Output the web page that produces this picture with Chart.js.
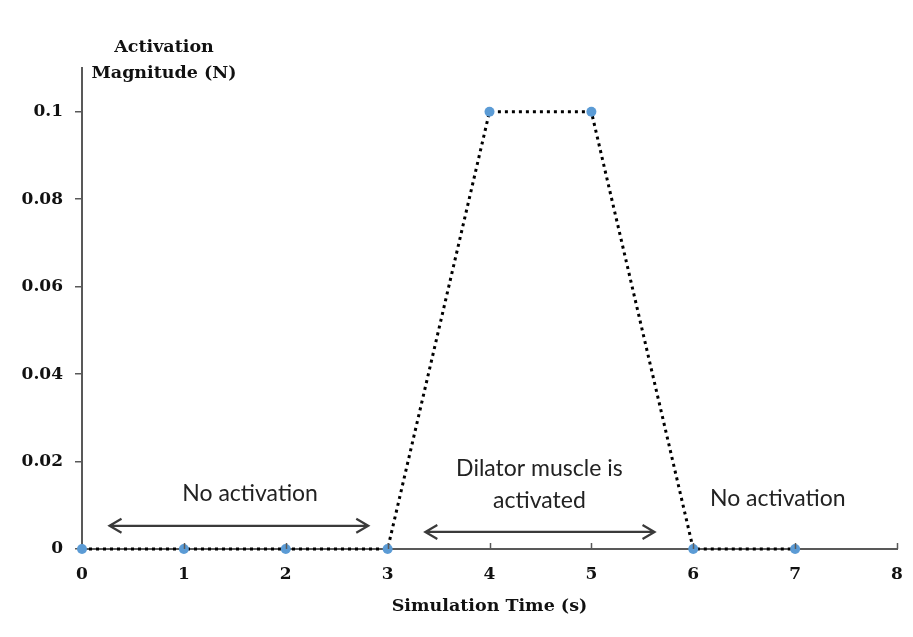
<!DOCTYPE html>
<html>
<head>
<meta charset="utf-8">
<script src="https://cdn.jsdelivr.net/npm/chart.js@4.4.1/dist/chart.umd.min.js"></script>
<style>
html,body{margin:0;padding:0;background:#fff;}
#wrap{width:913px;height:637px;position:relative;}
</style>
</head>
<body>
<div id="wrap"><canvas id="c" width="913" height="637"></canvas></div>
<script>
// ---- data ----
const timeValues = [0, 1, 2, 3, 4, 5, 6, 7];
const activationValues = [0, 0, 0, 0, 0.1, 0.1, 0, 0];
const yTickValues = [0, 0.02, 0.04, 0.06, 0.08, 0.1];
const xTickValues = [0, 1, 2, 3, 4, 5, 6, 7, 8];
const xAxisTitle = 'Simulation Time (s)';
const yAxisTitleLines = ['Activation', 'Magnitude (N)'];
// annotations: label text lines with anchor (data units), arrows (data units)
const annotationTexts = [
  { lines: ['No activation'], x: 1.65, y: 0.0126 },
  { lines: ['Dilator muscle is', 'activated'], x: 4.49, y: 0.0183 },
  { lines: ['No activation'], x: 6.83, y: 0.0116 }
];
const annotationArrows = [
  { x1: 0.27, x2: 2.81, y: 0.0053 },
  { x1: 3.37, x2: 5.62, y: 0.0039 }
];

const points = timeValues.map((t, i) => ({ x: t, y: activationValues[i] }));
const axisColor = '#595959';

const overlay = {
  id: 'overlay',
  afterDraw(chart) {
    const ctx = chart.ctx;
    const xs = chart.scales.x, ys = chart.scales.y;
    ctx.save();
    // x tick marks (inside, upward)
    ctx.strokeStyle = axisColor;
    ctx.lineWidth = 1.5;
    xTickValues.forEach(v => {
      if (v === 0) return;
      const px = Math.round(xs.getPixelForValue(v)) + 0.5;
      ctx.beginPath();
      ctx.moveTo(px, ys.bottom);
      ctx.lineTo(px, ys.bottom - 6);
      ctx.stroke();
    });
    // y axis title (horizontal, top)
    ctx.fillStyle = '#111';
    ctx.font = 'bold 17.5px "DejaVu Serif"';
    ctx.textAlign = 'center';
    ctx.textBaseline = 'middle';
    ctx.fillText(yAxisTitleLines[0], 164, 47);
    ctx.fillText(yAxisTitleLines[1], 164, 73);
    // annotation texts
    ctx.font = '23px Lato';
    ctx.fillStyle = '#222';
    annotationTexts.forEach(a => {
      const px = xs.getPixelForValue(a.x);
      const py = ys.getPixelForValue(a.y);
      a.lines.forEach((l, i) => ctx.fillText(l, px, py + i * 32));
    });
    // arrows
    ctx.strokeStyle = '#3a3a3a';
    ctx.lineWidth = 2.2;
    annotationArrows.forEach(a => {
      const x1 = xs.getPixelForValue(a.x1), x2 = xs.getPixelForValue(a.x2);
      const y = ys.getPixelForValue(a.y);
      ctx.beginPath();
      ctx.moveTo(x1, y); ctx.lineTo(x2, y);
      ctx.moveTo(x1 + 12, y - 7); ctx.lineTo(x1, y); ctx.lineTo(x1 + 12, y + 7);
      ctx.moveTo(x2 - 12, y - 7); ctx.lineTo(x2, y); ctx.lineTo(x2 - 12, y + 7);
      ctx.stroke();
    });
    ctx.restore();
  }
};

new Chart(document.getElementById('c'), {
  type: 'scatter',
  data: {
    datasets: [{
      data: points,
      showLine: true,
      clip: false,
      borderColor: '#000000',
      borderWidth: 3,
      borderDash: [3, 4],
      borderCapStyle: 'butt',
      pointRadius: 5,
      pointBackgroundColor: '#5B9BD5',
      pointBorderColor: '#5B9BD5',
      pointBorderWidth: 0,
      order: 1
    }]
  },
  options: {
    responsive: false,
    animation: false,
    layout: { padding: { left: 0, right: 16, top: 68, bottom: 0 } },
    plugins: { legend: { display: false }, tooltip: { enabled: false } },
    scales: {
      x: {
        type: 'linear',
        min: 0, max: 8,
        afterBuildTicks: s => { s.ticks = xTickValues.map(v => ({ value: v })); },
        afterFit: s => { s.height = 88; s.paddingLeft = 0; s.paddingRight = 0; },
        grid: { display: true, drawOnChartArea: false, drawTicks: false },
        border: { display: true, color: axisColor, width: 2 },
        ticks: { color: '#111', font: { family: '"DejaVu Serif"', size: 17, weight: 'bold' }, padding: 15 },
        title: { display: true, text: xAxisTitle, color: '#111', font: { family: '"DejaVu Serif"', size: 17.5, weight: 'bold' }, padding: { top: 4, bottom: 20 } }
      },
      y: {
        type: 'linear',
        min: 0, max: 0.11,
        afterBuildTicks: s => { s.ticks = yTickValues.map(v => ({ value: v })); },
        afterFit: s => { s.width = 82; },
        grid: { display: true, drawOnChartArea: false, drawTicks: true, tickLength: 7, color: axisColor, lineWidth: 1.5 },
        border: { display: true, color: axisColor, width: 2 },
        ticks: { color: '#111', font: { family: '"DejaVu Serif"', size: 17, weight: 'bold' }, padding: 12,
          callback: v => String(+v.toFixed(2)) }
      }
    }
  },
  plugins: [overlay]
});
</script>
</body>
</html>
